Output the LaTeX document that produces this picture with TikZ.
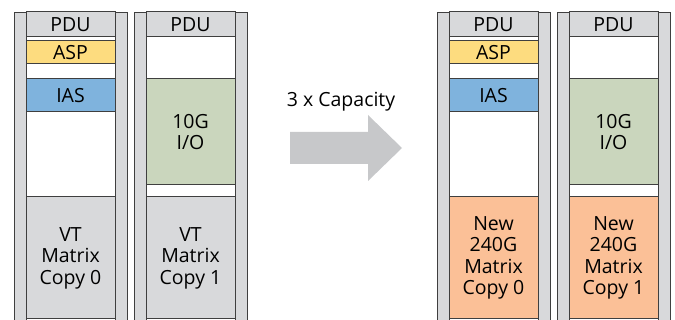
\documentclass[tikz,border=0pt]{standalone}
\usepackage{fontspec}
\setmainfont{Open Sans}
\usepackage{tikz}

\definecolor{postgray}{HTML}{D8D9DB}
\definecolor{edgegray}{HTML}{3F3F3F}
\definecolor{aspyellow}{HTML}{FDDC7F}
\definecolor{iasblue}{HTML}{7FB3DD}
\definecolor{iogreen}{HTML}{CAD6BD}
\definecolor{neworange}{HTML}{FBC097}
\definecolor{arrowgray}{HTML}{C7C8CA}

\tikzset{
  post/.style={fill=postgray, draw=edgegray, line width=0.8pt},
  slot/.style={draw=edgegray, line width=1pt, minimum width=89pt, inner sep=0pt,
    align=center, font=\fontsize{19.5}{21.5}\selectfont, text=black},
  bigarrow/.style={fill=arrowgray}
}

\begin{document}
\begin{tikzpicture}[x=1pt, y=-1pt]
    \useasboundingbox (0,0) rectangle (675,320);
    % rack posts
    \foreach \px in {14, 115, 134, 235, 437, 538, 557, 658}
      \draw[post] (\px,12) rectangle (\px+12,321);
    % old chassis
    \node[slot, fill=postgray, minimum height=25pt] (pdua) at (70.5, 24.5) {PDU};
    \node[slot, fill=aspyellow, minimum height=23pt] (aspa) at (70.5, 52.5) {ASP};
    \node[slot, fill=iasblue, minimum height=33pt] (iasa) at (70.5, 95.5) {IAS};
    \node[slot, fill=postgray, minimum height=122pt] (vta) at (70.5, 258) {VT\\Matrix\\Copy 0};
    \node[slot, fill=postgray, minimum height=25pt] (pdub) at (190.5, 24.5) {PDU};
    \node[slot, fill=iogreen, minimum height=106pt] (iob) at (190.5, 132) {10G\\I/O};
    \node[slot, fill=postgray, minimum height=122pt] (vtb) at (190.5, 258) {VT\\Matrix\\Copy 1};
    % upgrade arrow
    \fill[bigarrow] (290,132) -- (368,132) -- (368,115) -- (402,148)
      -- (368,181) -- (368,164) -- (290,164) -- cycle;
    \node[font=\fontsize{19.5}{21.5}\selectfont, text=black] (cap) at (341, 102) {3 x Capacity};
    % new chassis
    \node[slot, fill=postgray, minimum height=25pt] (pduc) at (493.5, 24.5) {PDU};
    \node[slot, fill=aspyellow, minimum height=23pt] (aspc) at (493.5, 52.5) {ASP};
    \node[slot, fill=iasblue, minimum height=33pt] (iasc) at (493.5, 95.5) {IAS};
    \node[slot, fill=neworange, minimum height=122pt] (newc) at (493.5, 258) {New\\240G\\Matrix\\Copy 0};
    \node[slot, fill=postgray, minimum height=25pt] (pdud) at (613.5, 24.5) {PDU};
    \node[slot, fill=iogreen, minimum height=106pt] (iod) at (613.5, 132) {10G\\I/O};
    \node[slot, fill=neworange, minimum height=122pt] (newd) at (613.5, 258) {New\\240G\\Matrix\\Copy 1};
\end{tikzpicture}
\end{document}
